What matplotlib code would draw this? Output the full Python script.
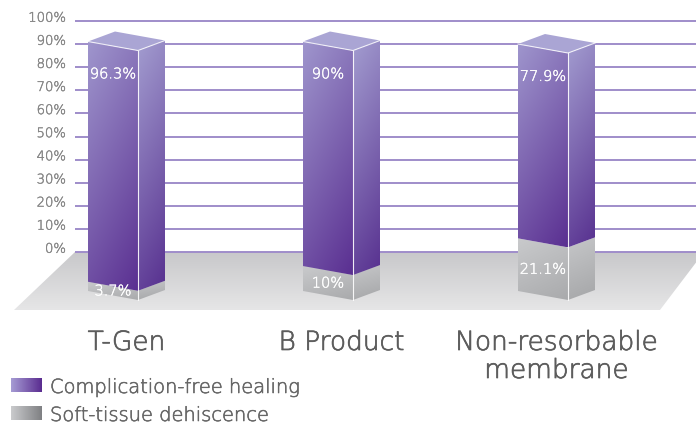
import numpy as np
import matplotlib.pyplot as plt
import matplotlib.patheffects as pe
from matplotlib.colors import to_rgb
from matplotlib.patches import Polygon

categories = ['T-Gen', 'B Product', 'Non-resorbable\nmembrane']
healing = [96.3, 90, 77.9]
dehiscence = [3.7, 10, 21.1]
series_names = ['Complication-free healing', 'Soft-tissue dehiscence']
yticks = list(range(0, 101, 10))

plt.rcParams['font.family'] = ['DejaVu Sans']
FW = 'light'

W, H = 696, 427
fig = plt.figure(figsize=(W / 100, H / 100), dpi=100)
ax = fig.add_axes([0, 0, 1, 1])
ax.axis('off')

# 1 x unit = one category step, 1 y unit = 1 %
XS, YS = 215.0, 2.31          # px per unit
X0, Y0 = 113, 253             # px of first bar centre / 0% line


def px_x(p):
    return (p - X0) / XS


def px_y(p):
    return (Y0 - p) / YS


def label(x, y, s, color, size, lw=0.4, **kw):
    # the extra-light face is a bit too thin, thicken it slightly
    ax.text(x, y, s, color=color, fontsize=size, fontweight=FW,
            path_effects=[pe.withStroke(linewidth=lw, foreground=color)], **kw)


def shade(verts, c0, c1, tilt=0.35, horiz=False, z=3):
    poly = Polygon(verts, closed=True, fc='none', ec='none', zorder=z)
    ax.add_patch(poly)
    xs = [p[0] for p in verts]
    ys = [p[1] for p in verts]
    u, v = np.meshgrid(np.linspace(0, 1, 80), np.linspace(0, 1, 160))
    if horiz:
        t = u
    else:
        t = (v + tilt * u) / (1 + tilt)
    a, b = np.array(to_rgb(c0)), np.array(to_rgb(c1))
    img = a + (b - a) * t[..., None]
    im = ax.imshow(img, extent=(min(xs), max(xs), min(ys), max(ys)), origin='upper',
                   aspect='auto', interpolation='bilinear', zorder=z)
    im.set_clip_path(poly)


# floor
floor = [(px_x(75), 0), (px_x(704), 0), (px_x(660), px_y(311)), (px_x(14), px_y(311))]
shade(floor, '#c8c8ca', '#e6e6e7', tilt=0, z=1)

# gridlines + tick labels
ax.hlines(yticks, px_x(75), px_x(W), color='#9f8dca', lw=1.4, zorder=2)
for t in yticks:
    label(px_x(66), t - 0.3, f'{t}%', '#858585', 9.5, lw=0.3, ha='right', va='baseline')

# 3D bars
w = 50 / XS
dx = 27 / XS
slant = 9 / YS
rise = 10 / YS
base = px_y(292)
k = 1.08  # front faces sit closer to the viewer than the back wall

purple = dict(front=('#9f96cd', '#5a2f91'), side=('#a39dd0', '#57308f'), top='#aaa5d4')
gray = dict(front=('#c9cacc', '#a9aaac'), side=('#c6c7c9', '#a5a6a8'), top='#d0d0d2')

for i, cat in enumerate(categories):
    x = i - w / 2
    segs = [(base, base + dehiscence[i] * k, gray),
            (base + dehiscence[i] * k, base + (dehiscence[i] + healing[i]) * k, purple)]
    for y0, y1, col in segs:
        front = [(x, y0), (x + w, y0 - slant), (x + w, y1 - slant), (x, y1)]
        side = [(x + w, y0 - slant), (x + w + dx, y0 - slant + rise),
                (x + w + dx, y1 - slant + rise), (x + w, y1 - slant)]
        shade(front, *col['front'], tilt=0.4, z=3)
        shade(side, *col['side'], tilt=0.2, z=3)
    top = base + (dehiscence[i] + healing[i]) * k
    topface = [(x, top), (x + w, top - slant), (x + w + dx, top - slant + rise), (x + dx, top + rise)]
    ax.add_patch(Polygon(topface, closed=True, fc=purple['top'], ec='none', zorder=3))
    ax.plot([x + w, x + w], [base - slant, top - slant], color='white', lw=0.8, alpha=0.9, zorder=4)
    ax.plot([x, x + w, x + w + dx], [top, top - slant, top - slant + rise],
            color='white', lw=0.8, alpha=0.8, zorder=4)

    # value labels
    label(i, top - 14, f'{healing[i]:g}%', 'white', 10.5, lw=0.3,
          ha='center', va='center', zorder=6)
    gmid = base + dehiscence[i] * k / 2 - slant / 2
    label(i, gmid, f'{dehiscence[i]:g}%', 'white', 10.5, lw=0.3,
          ha='center', va='center', zorder=6)

    for j, line in enumerate(cat.split('\n')):
        label(i + dx / 2, px_y(351 + 28 * j), line, '#5c5c5c', 19, lw=0.5,
              ha='center', va='baseline')

# legend
for j, (name, cols) in enumerate(zip(series_names, [('#a69cd4', '#5a2c90'), ('#cacbcd', '#7f8083')])):
    top_px = 379 + 28 * j
    sw = [(px_x(11), px_y(top_px)), (px_x(42), px_y(top_px)),
          (px_x(42), px_y(top_px + 14)), (px_x(11), px_y(top_px + 14))]
    shade(sw, *cols, horiz=True, z=3)
    label(px_x(50), px_y(top_px + 15), name, '#666666', 14, lw=0.4,
          ha='left', va='baseline')

ax.set_xlim(px_x(0), px_x(W))
ax.set_ylim(px_y(H), px_y(0))

fig.savefig('out.png', dpi=100)
